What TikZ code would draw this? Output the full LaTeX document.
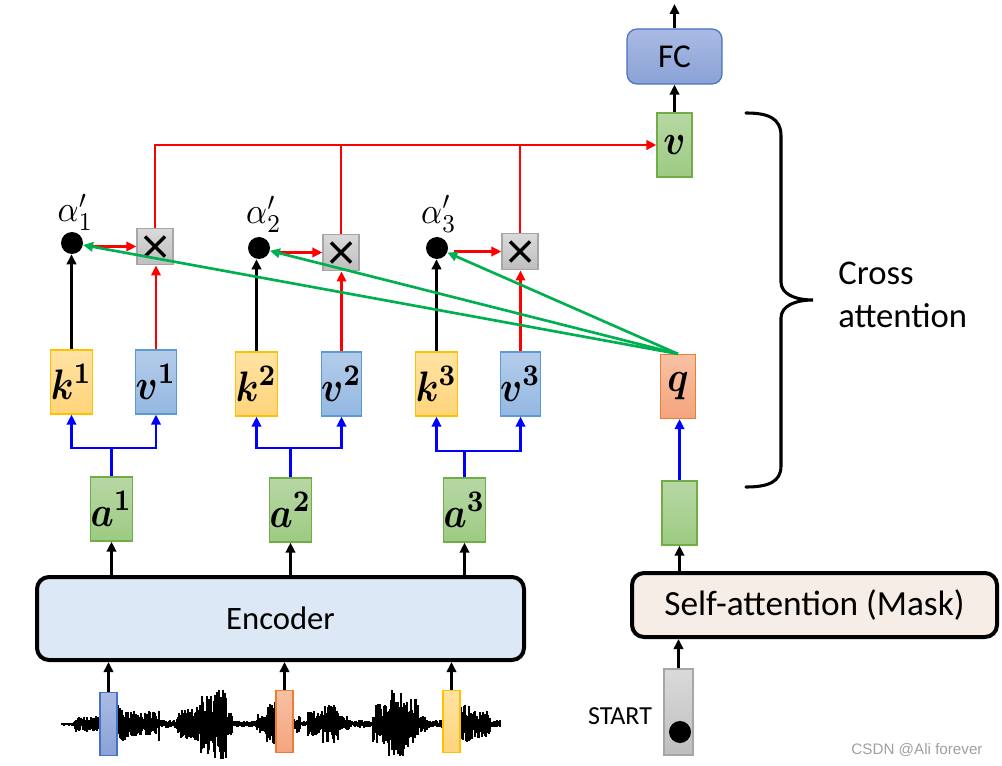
\RequirePackage{fix-cm}
\documentclass[tikz,border=0pt]{standalone}
\usepackage{amsmath,bm}
\usepackage[no-math]{fontspec}
\setmainfont{Carlito}
\newfontfamily\wmfont{Liberation Sans}
\usetikzlibrary{arrows.meta,calc}
\definecolor{redc}{HTML}{FF0000}
\definecolor{bluec}{HTML}{0000FF}
\definecolor{greenc}{HTML}{00B050}
\definecolor{kTop}{HTML}{FFE3A3}\definecolor{kBot}{HTML}{FFD47A}\definecolor{kBd}{HTML}{FFC000}
\definecolor{vTop}{HTML}{B4CCEA}\definecolor{vBot}{HTML}{94B8E2}\definecolor{vBd}{HTML}{5B9BD5}
\definecolor{aTop}{HTML}{B7D7A4}\definecolor{aBot}{HTML}{9DCB82}\definecolor{aBd}{HTML}{70AD47}
\definecolor{qTop}{HTML}{F7C1A4}\definecolor{qBot}{HTML}{F4A47E}\definecolor{qBd}{HTML}{ED7D31}
\definecolor{fcTop}{HTML}{AABAE3}\definecolor{fcBot}{HTML}{8AA2D6}\definecolor{fcBd}{HTML}{4472C4}
\definecolor{gTop}{HTML}{DADADA}\definecolor{gBot}{HTML}{BEBEBE}\definecolor{gBd}{HTML}{A6A6A6}
\definecolor{encFill}{HTML}{DCE8F6}
\definecolor{saFill}{HTML}{F7EDE7}
\definecolor{wmgray}{HTML}{A0A0A0}
\newcommand\vecm[1]{\scalebox{2.75}[3.2]{$#1$}}
\newcommand\alm[1]{\scalebox{2.45}[2.75]{$#1$}}
\tikzset{
  arr/.style={-{Triangle[length=7.5pt,width=7pt]}, line width=2pt},
  blk/.style={arr, black},
  redarr/.style={arr, redc},
  bluearr/.style={arr, bluec},
  greenarr/.style={arr, greenc, line width=2pt},
  plainln/.style={line width=2pt},
  vecbox/.style={draw, line width=0.9pt, minimum width=26.25pt, minimum height=48pt, inner sep=0pt,
    font=\normalsize},
  kbox/.style={vecbox, draw=kBd, top color=kTop, bottom color=kBot},
  vbox/.style={vecbox, draw=vBd, top color=vTop, bottom color=vBot},
  abox/.style={vecbox, draw=aBd, top color=aTop, bottom color=aBot},
  qbox/.style={vecbox, draw=qBd, top color=qTop, bottom color=qBot},
  mulbox/.style={draw=gBd, line width=0.9pt, top color=gTop, bottom color=gBot,
    minimum width=27pt, minimum height=27.5pt, inner sep=0pt},
  crossln/.style={line width=2.4pt, black},
  dotn/.style={circle, fill=black, minimum size=16.5pt, inner sep=0pt},
  alab/.style={font=\normalsize, inner sep=0pt},
  bigbox/.style={draw=black, line width=3pt, rounded corners=9pt, inner sep=0pt},
  frame/.style={draw, line width=0.9pt, minimum width=12.75pt, minimum height=47pt, inner sep=0pt},
  wave/.style={line width=0.95pt, black},
}
\begin{document}
\begin{tikzpicture}[x=0.75pt, y=-0.75pt]
\useasboundingbox (0,0) rectangle (1002,766);

% ---------- waveform ----------
\pgfmathsetseed{4242}
\draw[line width=0.9pt] (62,724) -- (500,724);
\foreach \a/\b/\m in {62/74/2, 75/100/8, 117/128/19, 129/156/13, 157/158/5, 159/159/26, 160/176/4,
  177/190/15, 191/200/22, 201/214/30, 215/226/36, 227/232/12, 233/256/3.5, 257/266/10, 267/276/24,
  293/300/9, 301/307/3, 308/322/13, 323/338/20, 339/350/8, 351/372/4, 373/388/20, 389/405/34,
  406/418/26, 419/428/8, 429/443/4, 460/472/20, 473/490/14, 491/500/4}{
  \foreach \x in {\a,...,\b}{
    \pgfmathsetmacro\up{\m*(0.3+0.7*rnd)}
    \pgfmathsetmacro\dn{\m*(0.3+0.7*rnd)}
    \draw[wave] (\x,724-\up) -- (\x,724+\dn);
  }
}

% ---------- audio frames ----------
\node[frame, draw=fcBd, top color=fcTop, bottom color=fcBot] (f1) at (108.5,724) {};
\node[frame, draw=qBd, top color=qTop, bottom color=qBot] (f2) at (284.5,721.5) {};
\node[frame, draw=kBd, top color=kTop, bottom color=kBot] (f3) at (451.5,721.5) {};

% ---------- encoder ----------
\node[bigbox, fill=encFill, minimum width=365.25pt, minimum height=62.25pt,
  font=\fontsize{24.5}{26}\selectfont] (enc) at (280.5,618.5) {Encoder};

% ---------- a vectors ----------
\node[abox] (a1) at (111.5,509) {\vecm{\bm{a}^{\bm{1}}}};
\node[abox] (a2) at (290.5,510) {\vecm{\bm{a}^{\bm{2}}}};
\node[abox] (a3) at (464.5,510) {\vecm{\bm{a}^{\bm{3}}}};

% ---------- k, v ----------
\node[kbox] (k1) at (71.5,382) {\vecm{\bm{k}^{\bm{1}}}};
\node[vbox] (v1) at (156,382) {\vecm{\bm{v}^{\bm{1}}}};
\node[kbox] (k2) at (256.5,384) {\vecm{\bm{k}^{\bm{2}}}};
\node[vbox] (v2) at (341.5,384) {\vecm{\bm{v}^{\bm{2}}}};
\node[kbox] (k3) at (436.5,384) {\vecm{\bm{k}^{\bm{3}}}};
\node[vbox] (v3) at (520.5,384) {\vecm{\bm{v}^{\bm{3}}}};

% ---------- dots & multipliers ----------
\node[dotn] (d1) at (72,243) {};
\node[dotn] (d2) at (259,248) {};
\node[dotn] (d3) at (437,248) {};
\node[alab] (l1) at (75.5,212.5) {\alm{\alpha'_1}};
\node[alab] (l2) at (264,214.5) {\alm{\alpha'_2}};
\node[alab] (l3) at (439,214) {\alm{\alpha'_3}};
\node[mulbox] (x1) at (155,246.5) {};
\node[mulbox] (x2) at (341,252.5) {};
\node[mulbox] (x3) at (520,251.5) {};
\foreach \n in {x1,x2,x3}{
  \draw[crossln] ($(\n)+(-10,-10)$) -- ($(\n)+(10,10)$);
  \draw[crossln] ($(\n)+(-10,10)$) -- ($(\n)+(10,-10)$);
}

% ---------- decoder side ----------
\node[qbox] (q) at (678,386.5) {\vecm{\bm{q}}};
\node[abox] (dec) at (679.5,513) {};
\node[abox] (vt) at (674.5,145) {\vecm{\bm{v}}};
\node[draw=fcBd, line width=0.9pt, top color=fcTop, bottom color=fcBot, rounded corners=7.5pt,
  minimum width=71.25pt, minimum height=41.25pt, inner sep=0pt,
  font=\fontsize{25}{26}\selectfont] (fc) at (674.5,56.5) {FC};
\coordinate (out) at (674.5,4);
\node[bigbox, fill=saFill, minimum width=273.75pt, minimum height=48pt,
  font=\fontsize{26.5}{28}\selectfont] (sa) at (814.5,605) {Self-attention (Mask)};
\node[draw=gBd, line width=0.9pt, top color=gTop, bottom color=gBot, minimum width=21.75pt,
  minimum height=64.5pt, inner sep=0pt] (st) at (678.5,712) {};
\node[dotn] (sd) at (680,732) {};
\node[font=\fontsize{19.5}{20}\selectfont, inner sep=0pt] (stl) at (620,716) {START};

% ---------- connectors: bottom ----------
\draw[blk] (f1.north) -- (f1.north |- enc.south);
\draw[blk] (f2.north) -- (f2.north |- enc.south);
\draw[blk] (f3.north) -- (f3.north |- enc.south);
\draw[blk] (enc.north -| a1) -- (a1.south);
\draw[blk] (enc.north -| a2) -- (a2.south);
\draw[blk] (enc.north -| a3) -- (a3.south);

% ---------- blue branches ----------
\coordinate (j1) at (111.5,448);
\coordinate (j2) at (290.5,448);
\coordinate (j3) at (464.5,451);
\draw[plainln, bluec] (a1.north) -- (j1);
\draw[plainln, bluec] (a2.north) -- (j2);
\draw[plainln, bluec] (a3.north) -- (j3);
\draw[bluearr] (j1) -| (k1.south);
\draw[bluearr] (j1) -| (v1.south);
\draw[bluearr] (j2) -| (k2.south);
\draw[bluearr] (j2) -| (v2.south);
\draw[bluearr] (j3) -| (k3.south);
\draw[bluearr] (j3) -| (v3.south);

% ---------- k -> dot, v -> x ----------
\draw[blk] (k1.north) -- (k1.north |- d1.south);
\draw[blk] (k2.north) -- (k2.north |- d2.south);
\draw[blk] (k3.north) -- (k3.north |- d3.south);
\draw[redarr] (v1.north) -- (v1.north |- x1.south);
\draw[redarr] (v2.north) -- (v2.north |- x2.south);
\draw[redarr] (v3.north) -- (v3.north |- x3.south);

% ---------- dot -> x ----------
\draw[redarr, shorten <=4pt] (d1.east |- x1.west) -- (x1.west);
\draw[redarr, shorten <=4pt] (d2.east |- x2.west) -- (x2.west);
\draw[redarr, shorten <=4pt] (d3.east |- x3.west) -- (x3.west);

% ---------- x -> v (sum) ----------
\draw[redarr] (x1.north) |- (vt.west);
\draw[plainln, redc] (x2.north) -- (x2.north |- vt.west);
\draw[plainln, redc] (x3.north) -- (x3.north |- vt.west);

% ---------- q -> dots ----------
\draw[greenarr] (q.north) -- (d1);
\draw[greenarr] (q.north) -- (d2);
\draw[greenarr] (q.north) -- (d3);

% ---------- decoder arrows ----------
\draw[blk] (st.north) -- (st.north |- sa.south);
\draw[blk] (sa.north -| dec) -- (dec.south);
\draw[bluearr] (dec.north) -- (dec.north |- q.south);
\draw[blk] (vt.north) -- (fc.south);
\draw[blk] (fc.north) -- (out);

% ---------- brace ----------
\draw[line width=2.3pt, line cap=round] (746,113) .. controls (768,113) and (781,118) .. (781,136)
  -- (781,282) .. controls (781,294) and (795,300) .. (813,300)
  .. controls (795,300) and (781,306) .. (781,318)
  -- (781,466) .. controls (781,482) and (768,487) .. (746,487);
\node[anchor=west, align=left, font=\fontsize{26}{32}\selectfont, inner sep=0pt] (ca) at (838,295) {Cross\\attention};

% ---------- watermark ----------
\node[font=\wmfont\fontsize{11.4}{12}\selectfont, text=wmgray, inner sep=0pt] (wm) at (917,750) {CSDN @Ali forever};
\end{tikzpicture}
\end{document}
